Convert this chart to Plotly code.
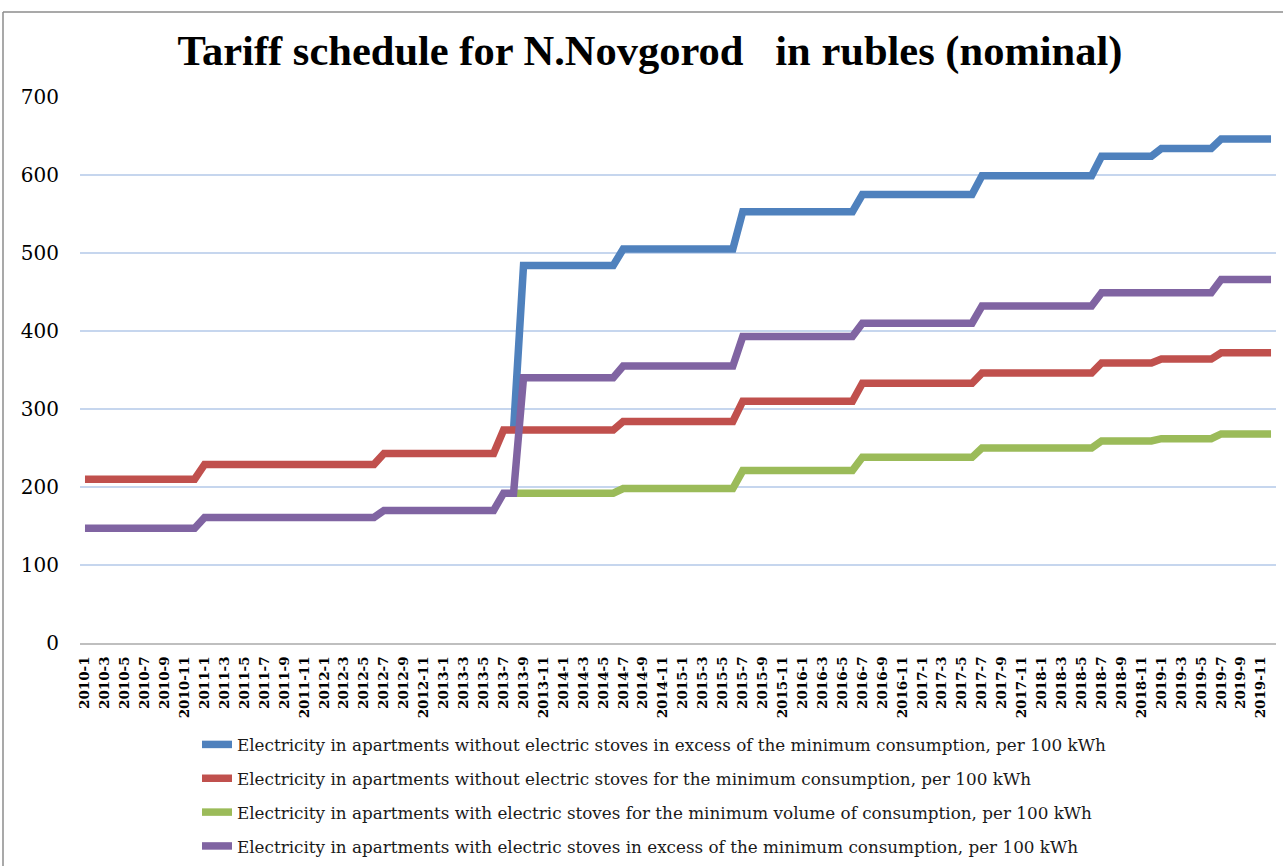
import plotly.graph_objects as go

# Categories: monthly 2010-1 .. 2019-12
years = list(range(2010, 2020))
months = [f"{y}-{m}" for y in years for m in range(1, 13)]
tick_labels = months[::2]

N = None
# Values in rubles per 100 kWh, one row per year (Jan..Dec)
blue_excess_no_stoves = (
    [N] * 12 +
    [N] * 12 +
    [N] * 12 +
    [N, N, N, N, N, N, N, 273, 484, 484, 484, 484] +
    [484, 484, 484, 484, 484, 484, 505, 505, 505, 505, 505, 505] +
    [505, 505, 505, 505, 505, 505, 553, 553, 553, 553, 553, 553] +
    [553, 553, 553, 553, 553, 553, 575, 575, 575, 575, 575, 575] +
    [575, 575, 575, 575, 575, 575, 599, 599, 599, 599, 599, 599] +
    [599, 599, 599, 599, 599, 599, 624, 624, 624, 624, 624, 624] +
    [634, 634, 634, 634, 634, 634, 646, 646, 646, 646, 646, 646]
)
red_min_no_stoves = (
    [210, 210, 210, 210, 210, 210, 210, 210, 210, 210, 210, 210] +
    [229, 229, 229, 229, 229, 229, 229, 229, 229, 229, 229, 229] +
    [229, 229, 229, 229, 229, 229, 243, 243, 243, 243, 243, 243] +
    [243, 243, 243, 243, 243, 243, 273, 273, 273, 273, 273, 273] +
    [273, 273, 273, 273, 273, 273, 284, 284, 284, 284, 284, 284] +
    [284, 284, 284, 284, 284, 284, 310, 310, 310, 310, 310, 310] +
    [310, 310, 310, 310, 310, 310, 333, 333, 333, 333, 333, 333] +
    [333, 333, 333, 333, 333, 333, 346, 346, 346, 346, 346, 346] +
    [346, 346, 346, 346, 346, 346, 359, 359, 359, 359, 359, 359] +
    [364, 364, 364, 364, 364, 364, 372, 372, 372, 372, 372, 372]
)
green_min_stoves = (
    [N] * 12 +
    [N] * 12 +
    [N] * 12 +
    [N, N, N, N, N, N, N, 192, 192, 192, 192, 192] +
    [192, 192, 192, 192, 192, 192, 198, 198, 198, 198, 198, 198] +
    [198, 198, 198, 198, 198, 198, 221, 221, 221, 221, 221, 221] +
    [221, 221, 221, 221, 221, 221, 238, 238, 238, 238, 238, 238] +
    [238, 238, 238, 238, 238, 238, 250, 250, 250, 250, 250, 250] +
    [250, 250, 250, 250, 250, 250, 259, 259, 259, 259, 259, 259] +
    [262, 262, 262, 262, 262, 262, 268, 268, 268, 268, 268, 268]
)
purple_excess_stoves = (
    [147, 147, 147, 147, 147, 147, 147, 147, 147, 147, 147, 147] +
    [161, 161, 161, 161, 161, 161, 161, 161, 161, 161, 161, 161] +
    [161, 161, 161, 161, 161, 161, 170, 170, 170, 170, 170, 170] +
    [170, 170, 170, 170, 170, 170, 192, 192, 340, 340, 340, 340] +
    [340, 340, 340, 340, 340, 340, 355, 355, 355, 355, 355, 355] +
    [355, 355, 355, 355, 355, 355, 393, 393, 393, 393, 393, 393] +
    [393, 393, 393, 393, 393, 393, 410, 410, 410, 410, 410, 410] +
    [410, 410, 410, 410, 410, 410, 432, 432, 432, 432, 432, 432] +
    [432, 432, 432, 432, 432, 432, 449, 449, 449, 449, 449, 449] +
    [449, 449, 449, 449, 449, 449, 466, 466, 466, 466, 466, 466]
)

series_names = [
    "Electricity in apartments without electric stoves in excess of the minimum consumption, per 100 kWh",
    "Electricity in apartments without electric stoves for the minimum consumption, per 100 kWh",
    "Electricity in apartments with electric stoves for the minimum volume of consumption, per 100 kWh",
    "Electricity in apartments with electric stoves in excess of the minimum consumption, per 100 kWh",
]
series_values = [blue_excess_no_stoves, red_min_no_stoves, green_min_stoves, purple_excess_stoves]
series_colors = ["#4F81BD", "#C0504D", "#9BBB59", "#8064A2"]

fig = go.Figure()
for i, (name, vals, col) in enumerate(zip(series_names, series_values, series_colors)):
    fig.add_trace(go.Scatter(
        x=months, y=vals, mode="lines", name=name,
        line=dict(color=col, width=7.5), legendgroup=f"g{i}",
        connectgaps=False,
    ))

SERIF = "Liberation Serif, Times New Roman, serif"
DSERIF = "DejaVu Serif, serif"
PL, PR, PT, PB = 80, 1276, 97, 643
W, H = 1283, 866
pw, ph = PR - PL, PB - PT

def px_x(p):
    return (p - PL) / pw

def px_y(p):
    return (PB - p) / ph

fig.update_layout(
    width=W, height=H,
    margin=dict(l=PL, r=W - PR, t=PT, b=H - PB, autoexpand=False),
    paper_bgcolor="white", plot_bgcolor="white",
    title=dict(
        text="<b>Tariff schedule for N.Novgorod\u00a0\u00a0\u00a0in rubles (nominal)</b>",
        x=650 / W, xanchor="center", xref="container",
        y=1 - 50 / H, yanchor="middle", yref="container",
        font=dict(family=SERIF, size=42.5, color="black"),
    ),
    showlegend=True,
    legend=dict(
        orientation="v",
        x=px_x(197), xanchor="left",
        y=px_y(727), yanchor="top",
        font=dict(family=DSERIF, size=16.8, color="#1a1a1a"),
        tracegroupgap=9,
        bgcolor="rgba(0,0,0,0)",
        itemwidth=30,
    ),
    xaxis=dict(
        type="category",
        range=[-0.5, len(months) - 0.5],
        tickmode="array", tickvals=tick_labels, ticktext=tick_labels,
        tickangle=-90,
        tickfont=dict(family=DSERIF, size=13.5, color="black", weight="bold"),
        showgrid=False,
        showline=True, linecolor="#BFBFBF", linewidth=2,
        ticks="", ticklabelstandoff=6, automargin=False,
    ),
    yaxis=dict(
        range=[0, 700],
        tickvals=[0, 100, 200, 300, 400, 500, 600, 700],
        tickfont=dict(family=DSERIF, size=20, color="black"),
        showgrid=True, gridcolor="#C6D6EE", gridwidth=2,
        zeroline=False, showline=False, ticks="",
        ticklabelstandoff=20, automargin=False,
    ),
    shapes=[
        dict(type="line", xref="paper", yref="paper",
             x0=px_x(3), x1=px_x(W + 5), y0=px_y(12), y1=px_y(12),
             line=dict(color="#8C8C8C", width=1.5)),
        dict(type="line", xref="paper", yref="paper",
             x0=px_x(3), x1=px_x(3), y0=px_y(12), y1=px_y(H + 5),
             line=dict(color="#8C8C8C", width=1.5)),
    ],
)

fig.write_html(
    "out.html",
    config={"displayModeBar": False},
    post_script="document.body.style.margin='0';document.body.style.padding='0';",
)
